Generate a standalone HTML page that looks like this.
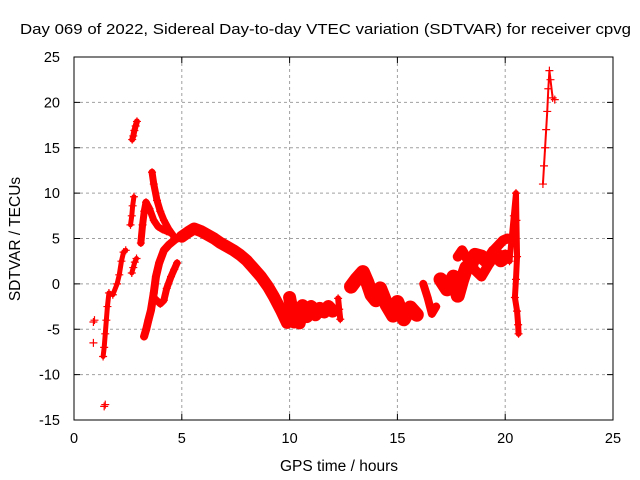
<!DOCTYPE html>
<html><head><meta charset="utf-8">
<style>
html,body{margin:0;padding:0;background:#fff;}
svg{display:block;font-family:"Liberation Sans",sans-serif;}
</style></head>
<body>
<svg id="chart" width="640" height="480" viewBox="0 0 640 480">
<text x="20" y="34" font-size="15" textLength="611" lengthAdjust="spacingAndGlyphs">Day 069 of 2022, Sidereal Day-to-day VTEC variation (SDTVAR) for receiver cpvg</text>
<text x="339" y="471" font-size="15.5" text-anchor="middle">GPS time / hours</text>
<text transform="translate(20,239) rotate(-90)" font-size="15.5" text-anchor="middle">SDTVAR / TECUs</text>
<g id="grid"></g><g id="ticks"></g><g id="marks"></g>
<rect x="74" y="57" width="539" height="363" fill="none" stroke="#000" stroke-width="1"/>
</svg>
<script>
const xTicks=[0,5,10,15,20,25];
const yTicks=[25,20,15,10,5,0,-5,-10,-15];
// series tracks (GPS hours, TECU)
const tA=[0.9,0.95,0.9,1.4,1.45];
const vA=[-4.2,-4.0,-6.5,-13.5,-13.3];
const t1=[1.35,1.4,1.45,1.5,1.55,1.62,1.8,2.0,2.1,2.2,2.3,2.4];
const v1=[-8,-7,-5.5,-4,-2.5,-1,-1.2,0,1,2.5,3.5,3.7];
const t2=[2.62,2.68,2.72,2.78];
const v2=[6.5,7.5,8.6,9.6];
const t2b=[2.68,2.75,2.82,2.9];
const v2b=[1.2,1.8,2.4,2.8];
const t3=[2.7,2.75,2.8,2.86,2.92];
const v3=[15.9,16.3,16.9,17.4,17.9];
const t4=[3.1,3.18,3.26,3.34,3.5,3.7,3.9,4.1,4.3,4.5];
const v4=[4.5,6.5,8,9,8.3,7,6.3,6,5.8,5.6];
const t5=[3.62,3.7,3.85,4.0,4.17,4.4,4.64];
const v5=[12.3,11,9.2,8,7,6,5.2];
const t6=[3.25,3.35,3.45,3.57,3.7,3.8,3.95,4.17,4.4,4.7,4.96];
const v6=[-5.8,-5,-4,-2.9,-1,0.8,2.3,3.7,4.3,4.9,5.2];
const t7=[3.7,4.0,4.17,4.3,4.5,4.65,4.78];
const v7=[-1.5,-2.2,-1.8,-0.5,0.8,1.6,2.3];
const tM=[5.0,5.3,5.57,5.9,6.2,6.5,6.8,7.1,7.4,7.7,8.0,8.3,8.67,9.0,9.27,9.6,9.88];
const vM=[5.2,5.7,6.1,5.8,5.4,5.0,4.5,4.1,3.7,3.2,2.6,1.8,0.8,-0.3,-1.4,-2.9,-4.3];
const tC1=[10.0,10.1,10.2,10.3,10.45,10.6,10.8,11.0,11.2,11.4,11.6,11.8,12.0];
const vC1=[-1.5,-2.8,-4.2,-3.2,-4.3,-2.4,-3.6,-2.5,-3.4,-2.7,-3.1,-2.5,-3.0];
const tC2=[12.25,12.3,12.35];
const vC2=[-1.6,-2.8,-3.9];
const tC3=[12.85,13.1,13.4,13.6,13.8,14.0,14.2,14.5,14.8,15.0,15.3,15.6,15.9];
const vC3=[-0.3,0.5,1.3,0.2,-1.2,-1.8,-0.5,-2.3,-3.5,-2.0,-3.9,-2.6,-3.4];
const tC4=[16.2,16.4,16.6,16.8];
const vC4=[0.0,-1.5,-3.3,-2.5];
const tC5=[17.0,17.3,17.6,17.8,18.0,18.2,18.4,18.6,18.9,19.2,19.5,19.8,20.0];
const vC5=[0.5,-0.6,0.8,-1.3,0.4,1.8,2.0,3.2,3.0,2.4,3.5,2.6,3.0];
const tC6=[17.8,18.0,18.3,18.6,18.9,19.2,19.5,19.9,20.1];
const vC6=[3.0,3.7,2.5,1.5,0.8,2.0,3.8,4.8,5.0];
const tS=[20.2,20.3,20.4,20.5,20.52,20.55,20.5,20.45,20.55,20.6,20.62];
const vS=[2.5,5.0,7.5,10.0,7.0,3.0,0.5,-1.5,-3.0,-4.5,-5.5];
const tL=[21.75,21.8,21.85,21.9,21.95,22.0,22.05,22.1,22.2,22.3];
const vL=[11,13,15,17,19,21.5,23.5,22.5,20.5,20.3];

const X0=74,X1=613,Y0=420,Y1=57;
const xs=t=>X0+(t-0)/25*(X1-X0);
const ys=v=>Y0-(v+15)/40*(Y0-Y1);
const NS='http://www.w3.org/2000/svg';
const mk=(tag,attrs,parent)=>{const e=document.createElementNS(NS,tag);for(const k in attrs)e.setAttribute(k,attrs[k]);parent.appendChild(e);return e;};
const grid=document.getElementById('grid'),ticks=document.getElementById('ticks'),marks=document.getElementById('marks');
xTicks.forEach(t=>{
  const x=xs(t);
  if(t>0&&t<25){const g=mk('line',{x1:x,x2:x,y1:Y1,y2:Y0,stroke:'#a0a0a0','stroke-dasharray':'3,3'},grid);
  
  }
  mk('line',{x1:x,x2:x,y1:Y0,y2:Y0-6,stroke:'#000'},ticks);
  mk('line',{x1:x,x2:x,y1:Y1,y2:Y1+6,stroke:'#000'},ticks);
  const l=mk('text',{x:x,y:Y0+23,'font-size':14.5,'text-anchor':'middle'},ticks);l.textContent=t;
  
  
});
yTicks.forEach(v=>{
  const y=ys(v);
  if(v>-15&&v<25){const g=mk('line',{x1:X0,x2:X1,y1:y,y2:y,stroke:'#a0a0a0','stroke-dasharray':'3,3'},grid);
  
  }
  mk('line',{x1:X0,x2:X0+6,y1:y,y2:y,stroke:'#000'},ticks);
  mk('line',{x1:X1,x2:X1-6,y1:y,y2:y,stroke:'#000'},ticks);
  const l=mk('text',{x:X0-14,y:y+5,'font-size':14.5,'text-anchor':'end'},ticks);l.textContent=v;
  
  
});
const tracks=[[tA,vA,0],[t1,v1,5],[t2,v2,5],[t2b,v2b,5],[t3,v3,6],[t4,v4,7],[t5,v5,7],[t6,v6,8],[t7,v7,7],[tM,vM,12],[tC1,vC1,13],[tC2,vC2,6],[tC3,vC3,14],[tC4,vC4,8],[tC5,vC5,14],[tC6,vC6,10],[tS,vS,6],[tL,vL,2]];
tracks.forEach(([T,V,w],i)=>{
  if(w>0){
    const pts=T.map((t,j)=>xs(t)+','+ys(V[j])).join(' ');
    const p=mk('polyline',{points:pts,fill:'none',stroke:'#ff0000','stroke-width':w,'stroke-linejoin':'round','stroke-linecap':'round'},marks);
    
    
  }
  T.forEach((t,j)=>{
    const x=xs(t),y=ys(V[j]);
    const m=mk('path',{d:`M${x-4},${y}H${x+4}M${x},${y-4}V${y+4}`,stroke:'#ff0000','stroke-width':1.2},marks);
    
    
  });
});
</script>
</body></html>
